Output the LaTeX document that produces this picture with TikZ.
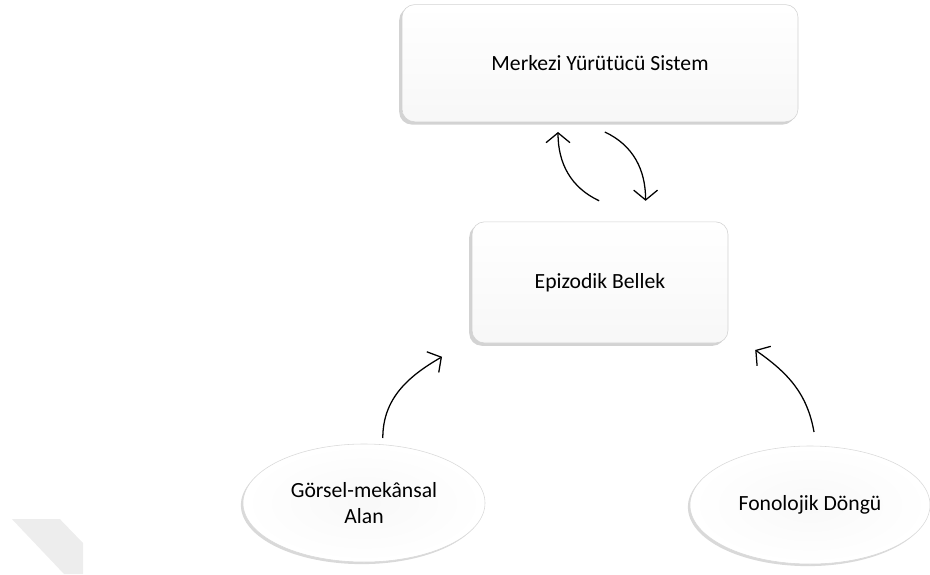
\documentclass[tikz,border=0pt]{standalone}
\usepackage{fontspec}
\setmainfont{Carlito}
\usepackage{tikz}
\usetikzlibrary{arrows.meta,shapes.geometric,shadows}

\begin{document}
\begin{tikzpicture}[
  box/.style={draw=gray!35, rounded corners=9pt, top color=white, bottom color=gray!6,
    drop shadow={shadow xshift=-2pt, shadow yshift=-2pt, opacity=0.35}, font=\fontsize{15.4}{18}\selectfont},
  oval/.style={ellipse, draw=gray!30, inner color=gray!5, outer color=white,
    drop shadow={shadow xshift=-1.5pt, shadow yshift=-1.5pt, opacity=0.3},
    align=center, font=\fontsize{15.4}{18.5}\selectfont},
  curvearrow/.style={line width=0.9pt, -{Straight Barb[length=7pt, width=17pt, line width=0.9pt]}}
]
\useasboundingbox (0,0) rectangle (23.25,-14.35);

% Watermark corner
\fill[black!7] (0.3,-12.98) -- (1.5,-12.98) -- (2.08,-13.58) -- (2.08,-14.35) -- (1.6,-14.35) -- cycle;

% Boxes
\node[box, minimum width=9.9cm, minimum height=2.93cm] (central) at (15.0,-1.58) {Merkezi Yürütücü Sistem};
\node[box, minimum width=6.4cm, minimum height=3.03cm] (episodic) at (15.0,-7.06) {Epizodik Bellek};

% Slave systems
\node[oval, minimum width=6.05cm, minimum height=2.95cm] (visuo) at (9.1,-12.575) {Görsel-mekânsal\\Alan};
\node[oval, minimum width=6cm, minimum height=2.95cm] (phono) at (20.25,-12.625) {Fonolojik Döngü};

% Arrow end points
\coordinate (upA) at (14.98,-5.02);
\coordinate (upB) at (13.95,-3.3);
\coordinate (downA) at (15.12,-3.3);
\coordinate (downB) at (16.14,-5.02);
\coordinate (leftA) at (9.57,-10.95);
\coordinate (leftB) at (11.05,-8.92);
\coordinate (rightA) at (20.35,-10.8);
\coordinate (rightB) at (18.88,-8.75);

% Curved arrows
\draw[curvearrow] (upA) to[out=155, in=-90] (upB);
\draw[curvearrow] (downA) to[out=-25, in=90] (downB);
\draw[curvearrow] (leftA) to[out=90, in=210] (leftB);
\draw[curvearrow] (rightA) to[out=100, in=-35] (rightB);
\end{tikzpicture}
\end{document}
